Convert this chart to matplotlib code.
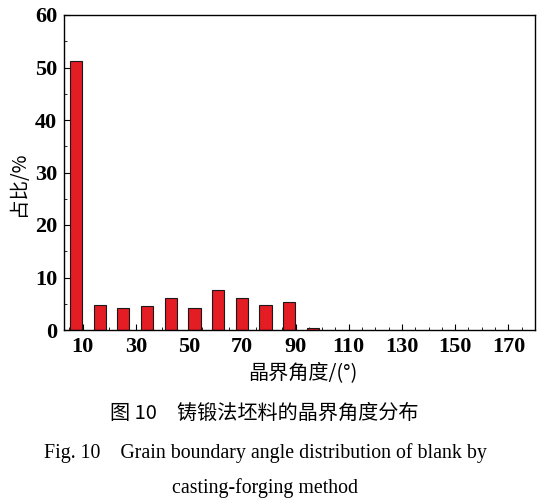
import matplotlib
matplotlib.use("Agg")
import matplotlib.pyplot as plt
from matplotlib.ticker import MultipleLocator

angles = [7.5, 16.4, 25.3, 34.2, 43.1, 52.0, 60.9, 69.8, 78.7, 87.6, 96.5]
fractions = [51.2, 4.8, 4.1, 4.6, 6.1, 4.25, 7.6, 6.1, 4.8, 5.3, 0.3]
xticks = [10, 30, 50, 70, 90, 110, 130, 150, 170]
yticks = [0, 10, 20, 30, 40, 50, 60]

W, H = 541, 499
fig = plt.figure(figsize=(W/100, H/100), dpi=100)
ax = fig.add_axes([64/W, 1-330/H, (535-64)/W, (330-15)/H])

ax.bar(angles, fractions, width=4.6, color="#e41c24", edgecolor="#1a1a1a", linewidth=0.8, zorder=2)
ax.set_xlim(3, 180)
ax.set_ylim(0, 60)
ax.set_xticks(xticks)
ax.set_yticks(yticks)
ax.xaxis.set_minor_locator(MultipleLocator(5))
ax.yaxis.set_minor_locator(MultipleLocator(5))
ax.tick_params(axis="both", which="major", direction="in", length=4, width=0.8, pad=5)
ax.tick_params(axis="both", which="minor", direction="in", length=2, width=0.6)
ax.tick_params(axis="x", which="both", top=False)
for lab in ax.get_xticklabels() + ax.get_yticklabels():
    lab.set_fontfamily("Liberation Serif")
    lab.set_fontsize(16)
    lab.set_fontweight("bold")
for s in ax.spines.values():
    s.set_linewidth(1.0)

cjk = ["Noto Sans CJK SC", "DejaVu Sans"]
fig.text(18/W, 1-184/H, "占比/%", rotation=90, ha="center", va="center", fontsize=14, family=cjk)
fig.text(303/W, 1-373/H, "晶界角度/(°)", ha="center", va="center", fontsize=14.5, family=cjk)
fig.text(264/W, 1-413/H, "图 10　铸锻法坯料的晶界角度分布", ha="center", va="center", fontsize=14.5, family=cjk)
fig.text(265/W, 1-453/H, "Fig. 10    Grain boundary angle distribution of blank by", ha="center", va="center",
         fontsize=14.3, family="Liberation Serif")
fig.text(265/W, 1-488/H, "casting-forging method", ha="center", va="center", fontsize=14.3, family="Liberation Serif")

fig.savefig("out.png", dpi=100)
